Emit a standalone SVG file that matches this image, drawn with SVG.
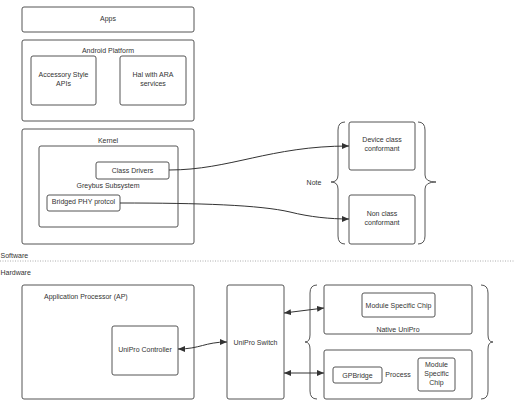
<svg xmlns="http://www.w3.org/2000/svg" width="514" height="412" viewBox="0 0 514 412">
<defs>
<style>
.b{fill:#fff;stroke:#555;stroke-width:1}
.br{fill:none;stroke:#555;stroke-width:1}
.c{fill:none;stroke:#333;stroke-width:1}
text{font-family:"Liberation Sans",Arial,sans-serif;font-size:7px;fill:#333;text-anchor:middle}
.l{text-anchor:start}
</style>
<marker id="ah" markerWidth="8" markerHeight="6" refX="7" refY="3" orient="auto-start-reverse" markerUnits="userSpaceOnUse">
<path d="M0,0 L7,3 L0,6 Z" fill="#333"/>
</marker>
</defs>
<rect width="514" height="412" fill="#fff"/>

<g id="apps"><rect class="b" x="22" y="7" width="172" height="25" rx="2"/><text x="108" y="20.5">Apps</text></g>

<g id="android"><rect class="b" x="22" y="40" width="172" height="81" rx="2"/><text x="108" y="53">Android Platform</text></g>
<g id="accessory"><rect class="b" x="31" y="56" width="65" height="49" rx="2"/><text x="63.5" y="77">Accessory Style</text><text x="63.5" y="86">APIs</text></g>
<g id="hal"><rect class="b" x="120" y="56" width="66" height="49" rx="2"/><text x="153" y="77">Hal with ARA</text><text x="153" y="86">services</text></g>

<g id="kernel"><rect class="b" x="22" y="129" width="172" height="115" rx="2"/><text x="108" y="143">Kernel</text></g>
<g id="greybus"><rect class="b" x="39" y="146" width="139" height="81" rx="2"/><text x="108" y="187.5">Greybus Subsystem</text></g>
<g id="classdrivers"><rect class="b" x="96" y="162" width="73" height="17" rx="2"/><text x="132.5" y="172.5">Class Drivers</text></g>
<g id="bridged"><rect class="b" x="47" y="195" width="73" height="16" rx="2"/><text x="83.5" y="203.5">Bridged PHY protcol</text></g>

<g id="note"><text x="314" y="184.5">Note</text>
<path class="br" d="M345,122 Q338,122 338,130 L338,175 Q338,182 331,182 Q338,182 338,189 L338,236 Q338,244 345,244"/>
<path class="br" d="M418,122 Q425,122 425,130 L425,175 Q425,182 436,182 Q425,182 425,189 L425,236 Q425,244 418,244"/>
</g>
<g id="deviceclass"><rect class="b" x="349" y="122" width="66" height="48" rx="2"/><text x="382" y="142">Device class</text><text x="382" y="151">conformant</text></g>
<g id="nonclass"><rect class="b" x="349" y="195" width="66" height="49" rx="2"/><text x="382" y="216">Non class</text><text x="382" y="225">conformant</text></g>

<g id="divider">
<text class="l" x="0.5" y="258">Software</text>
<line x1="0" y1="261" x2="514" y2="261" stroke="#999" stroke-width="0.8" stroke-dasharray="1,1.5"/>
<text class="l" x="0.5" y="274.5">Hardware</text>
</g>

<g id="ap"><rect class="b" x="22" y="285" width="172" height="114" rx="2"/><text class="l" x="44" y="298.5">Application Processor (AP)</text></g>
<g id="unicontroller"><rect class="b" x="112" y="326" width="66" height="49" rx="2"/><text x="145" y="351.5">UniPro Controller</text></g>
<g id="switch"><rect class="b" x="227" y="285" width="57" height="114" rx="2"/><text x="255.5" y="344.5">UniPro Switch</text></g>

<g id="modbrace">
<path class="br" d="M317,285 Q310,285 310,293 L310,335 Q310,342 305,342 Q310,342 310,349 L310,391 Q310,399 317,399"/>
<path class="br" d="M481,285 Q488,285 488,293 L488,335 Q488,342 493,342 Q488,342 488,349 L488,391 Q488,399 481,399"/>
</g>
<g id="native"><rect class="b" x="324" y="285" width="148" height="49" rx="2"/><text x="398" y="331.5">Native UniPro</text></g>
<g id="modchip1"><rect class="b" x="362" y="293" width="73" height="24" rx="2"/><text x="398.5" y="307.5">Module Specific Chip</text></g>
<g id="process"><rect class="b" x="324" y="350" width="148" height="49" rx="2"/><text x="398" y="376.5">Process</text></g>
<g id="gpbridge"><rect class="b" x="333" y="367" width="49" height="16" rx="2"/><text x="357.5" y="377.5">GPBridge</text></g>
<g id="modchip2"><rect class="b" x="418" y="358" width="37" height="33" rx="2"/><text x="436.5" y="367">Module</text><text x="436.5" y="376">Specific</text><text x="436.5" y="385">Chip</text></g>

<g id="connectors">
<path class="c" d="M169,170 C230,170 270,146 349,146" marker-end="url(#ah)"/>
<path class="c" d="M120,203 C200,203 260,205 290,212 C310,217 330,219 349,219" marker-end="url(#ah)"/>
<path class="c" d="M178,349 C200,349 205,342 227,342" marker-start="url(#ah)" marker-end="url(#ah)"/>
<path class="c" d="M284,313 L324,308" marker-start="url(#ah)" marker-end="url(#ah)"/>
<path class="c" d="M284,373 L324,373" marker-start="url(#ah)" marker-end="url(#ah)"/>
</g>
</svg>
